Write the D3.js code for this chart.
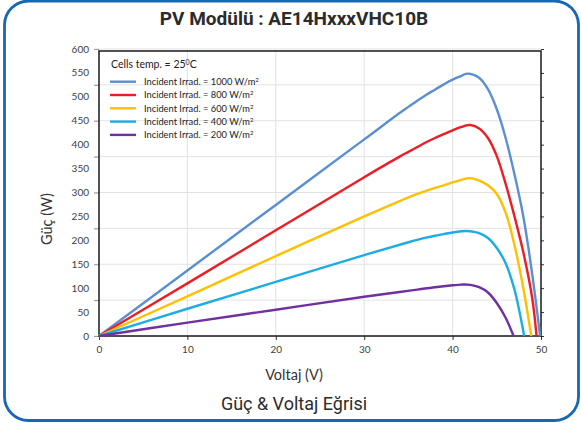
<!DOCTYPE html>
<html>
<head>
<meta charset="utf-8">
<script src="https://cdn.jsdelivr.net/npm/d3@7"></script>
<style>
  body { margin: 0; background: #fff; }
  svg { display: block; }
</style>
</head>
<body>
<script>
// Values (power in W vs voltage in V)
const voltage1000 = [0, 10, 20, 30, 34, 35, 36, 37, 38, 39, 40, 41, 41.5, 42, 43, 44, 45, 46, 47, 48, 49, 49.9];
const power1000 = [0, 137, 274, 411, 466, 479, 492, 504, 515, 526, 536, 544, 548, 548, 540, 516, 474, 414, 338, 250, 130, 0];

const voltage800 = [0, 10, 20, 30, 34, 35, 36, 37, 38, 39, 40, 41, 41.5, 42, 43, 44, 45, 46, 47, 48, 49, 49.5];
const power800 = [0, 110, 221, 332, 375, 385, 395, 405, 414, 422, 430, 437, 440, 441, 434, 414, 376, 318, 250, 175, 80, 0];

const voltage600 = [0, 10, 20, 30, 34, 35, 36, 37, 38, 39, 40, 41, 41.5, 42, 43, 44, 45, 46, 47, 48, 48.9];
const power600 = [0, 83, 167, 250, 282, 290, 297, 303.5, 309.5, 315, 321, 326.5, 329, 330, 325, 315, 297, 258, 190, 100, 0];

const voltage400 = [0, 10, 20, 30, 35, 36, 37, 38, 39, 40, 41, 41.5, 42, 43, 44, 45, 46, 47, 47.5, 48.1];
const power400 = [0, 57, 113, 169, 196, 201, 205.5, 209.5, 213, 216.5, 219, 219.5, 219, 215, 205, 184, 152, 97, 57, 0];

const voltage200 = [0, 10, 20, 30, 34, 36, 38, 40, 41, 42, 43, 44, 45, 46, 46.9];
const power200 = [0, 28, 55, 82, 92, 97, 102, 106, 107.5, 107, 102, 91, 69, 38, 0];

const irradiances = ["1000", "800", "600", "400", "200"];
const colors = ["#5b8fd3", "#ee1c25", "#ffc000", "#1cade6", "#7030a0"];

const xTicks = [0, 10, 20, 30, 40, 50];
const yLabels = [0, 50, 100, 150, 200, 250, 300, 350, 400, 450, 500, 550, 600];
const yGrid = [0, 75, 150, 225, 300, 375, 450, 525, 600];

const series = [
  { v: voltage1000, p: power1000 },
  { v: voltage800, p: power800 },
  { v: voltage600, p: power600 },
  { v: voltage400, p: power400 },
  { v: voltage200, p: power200 },
].map((s, i) => ({
  name: irradiances[i],
  color: colors[i],
  points: s.v.map((v, j) => [v, s.p[j]]),
}));

const W = 581, H = 423;
const margin = { top: 49, bottom: 87, left: 99, right: 40 };

const svg = d3
  .select("body")
  .append("svg")
  .attr("width", W)
  .attr("height", H);

// rounded blue frame
svg
  .append("rect")
  .attr("x", 4.5)
  .attr("y", 1)
  .attr("width", W - 7)
  .attr("height", H - 3.5)
  .attr("rx", 24)
  .attr("fill", "none")
  .attr("stroke", "#1668b3")
  .attr("stroke-width", 2.8);

svg
  .append("text")
  .attr("x", 294)
  .attr("y", 25)
  .attr("text-anchor", "middle")
  .style("font-family", "Roboto, sans-serif")
  .style("font-weight", 700)
  .style("font-size", "19px")
  .attr("fill", "#2b2b2b")
  .text("PV Modülü : AE14HxxxVHC10B");

svg
  .append("text")
  .attr("x", 294)
  .attr("y", 410)
  .attr("text-anchor", "middle")
  .style("font-family", "Roboto, sans-serif")
  .style("font-size", "18px")
  .attr("fill", "#2b2b2b")
  .text("Güç & Voltaj Eğrisi");

// scales
const x = d3.scaleLinear().domain([0, 50]).range([margin.left, W - margin.right]);
const y = d3.scaleLinear().domain([0, 600]).range([H - margin.bottom, margin.top]);

const g = svg.append("g");

// gridlines
g.append("g")
  .selectAll("line")
  .data(yGrid)
  .join("line")
  .attr("x1", x(0) - 5)
  .attr("x2", x(50))
  .attr("y1", (d) => y(d))
  .attr("y2", (d) => y(d))
  .attr("stroke", "#e2e2e2")
  .attr("stroke-width", 1);

g.append("g")
  .selectAll("line")
  .data(xTicks.slice(1, -1))
  .join("line")
  .attr("x1", (d) => x(d))
  .attr("x2", (d) => x(d))
  .attr("y1", y(0))
  .attr("y2", y(600))
  .attr("stroke", "#e2e2e2")
  .attr("stroke-width", 1);

// left axis: ticks on the grid, labels every 50
const leftAxis = g
  .append("g")
  .attr("transform", `translate(${x(0)},0)`)
  .call(d3.axisLeft(y).tickValues(yGrid).tickSize(5).tickFormat(""));
leftAxis.select(".domain").remove();
leftAxis.selectAll("line").attr("stroke", "#999");

g.append("g")
  .selectAll("text")
  .data(yLabels)
  .join("text")
  .attr("x", x(0) - 10)
  .attr("y", (d) => y(d))
  .attr("dy", "0.35em")
  .attr("text-anchor", "end")
  .style("font-family", "Lato, sans-serif")
  .style("font-size", "10px")
  .attr("fill", "#404040")
  .text((d) => d);

// right axis ticks
const rightAxis = g
  .append("g")
  .attr("transform", `translate(${x(50)},0)`)
  .call(d3.axisRight(y).tickValues(yLabels).tickSize(3).tickFormat(""));
rightAxis.select(".domain").remove();
rightAxis.selectAll("line").attr("stroke", "#333");

// bottom axis
const bottomAxis = g
  .append("g")
  .attr("transform", `translate(0,${y(0)})`)
  .call(d3.axisBottom(x).tickValues(xTicks).tickSize(4).tickPadding(6));
bottomAxis.select(".domain").remove();
bottomAxis.selectAll("line").attr("stroke", "#333");
bottomAxis
  .selectAll("text")
  .style("font-family", "Lato, sans-serif")
  .style("font-size", "10px")
  .attr("fill", "#404040");

// plot frame
g.append("rect")
  .attr("x", x(0))
  .attr("y", y(600) + 2)
  .attr("width", x(50) - x(0))
  .attr("height", y(0) - y(600) - 2)
  .attr("fill", "none")
  .attr("stroke", "#1a1a1a")
  .attr("stroke-width", 1.5);

// curves
const line = d3
  .line()
  .x((d) => x(d[0]))
  .y((d) => y(d[1]))
  .curve(d3.curveCatmullRom.alpha(0.5));

g.append("g")
  .selectAll("path")
  .data(series)
  .join("path")
  .attr("d", (d) => line(d.points))
  .attr("fill", "none")
  .attr("stroke", (d) => d.color)
  .attr("stroke-width", 2.4)
  .attr("stroke-linejoin", "round");

// axis titles
svg
  .append("text")
  .attr("x", 294)
  .attr("y", 380)
  .attr("text-anchor", "middle")
  .style("font-family", "Lato, sans-serif")
  .style("font-size", "14.5px")
  .attr("fill", "#333")
  .text("Voltaj (V)");

svg
  .append("text")
  .attr("transform", `translate(52,219) rotate(-90)`)
  .attr("text-anchor", "middle")
  .style("font-family", "Lato, sans-serif")
  .style("font-size", "14.5px")
  .attr("fill", "#333")
  .text("Güç (W)");

// legend
const legend = svg.append("g").attr("transform", "translate(110,0)");

const cellsText = legend
  .append("text")
  .attr("x", 1)
  .attr("y", 68)
  .style("font-family", "Lato, sans-serif")
  .style("font-size", "10.5px")
  .attr("fill", "#222");
cellsText.append("tspan").text("Cells temp. = 25");
cellsText.append("tspan").attr("dy", -3.5).style("font-size", "7px").text("0");
cellsText.append("tspan").attr("dy", 3.5).text("C");

const items = legend
  .selectAll("g.item")
  .data(series)
  .join("g")
  .attr("class", "item")
  .attr("transform", (d, i) => `translate(0,${81.7 + i * 13.3})`);

items
  .append("line")
  .attr("x1", 0)
  .attr("x2", 26)
  .attr("stroke", (d) => d.color)
  .attr("stroke-width", 2.4);

const itemText = items
  .append("text")
  .attr("x", 34)
  .attr("dy", "0.35em")
  .style("font-family", "Lato, sans-serif")
  .style("font-size", "9.3px")
  .attr("fill", "#222");
itemText.append("tspan").text((d) => `Incident Irrad. = ${d.name} W/m`);
itemText.append("tspan").attr("dy", -3).style("font-size", "6px").text("2");
</script>
</body>
</html>
